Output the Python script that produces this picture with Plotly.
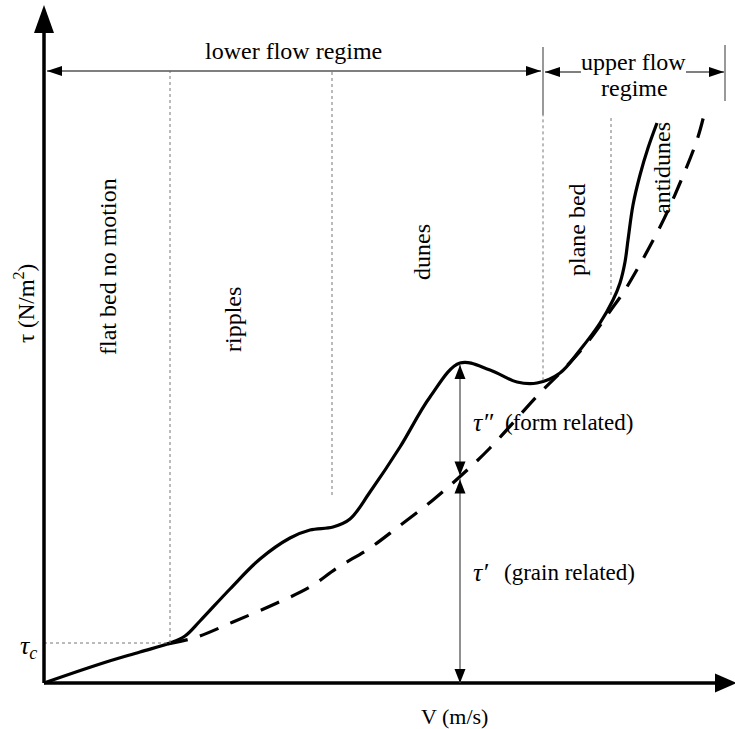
import numpy as np
import plotly.graph_objects as go

# Total bed shear stress (solid line), V and tau in drawing units
V_total = [0, 56, 96, 126, 141, 156, 186, 216, 246, 266, 289, 306, 326, 356, 386,
           416, 446, 473, 493, 516, 536, 556, 569, 576, 581, 584, 589, 596, 604, 613]
tau_total = [0, 19, 31, 40, 47, 62, 94, 124, 145, 153, 156, 164, 191, 236, 286,
             320, 313, 301, 300, 310, 333, 360, 383, 400, 421, 443, 478, 508, 535, 560]

# Grain related shear stress (dashed line)
V_grain = [124, 153, 189, 233, 266, 293, 326, 354, 389, 421, 446, 496, 519, 543,
           569, 581, 616, 636, 653, 660]
tau_grain = [39, 46, 61, 80, 96, 115, 135, 156, 183, 211, 235, 290, 313, 340,
             376, 393, 456, 500, 543, 568]

# Critical shear stress and regime boundaries along V
V_c, tau_c = 126, 40
V_ripple_dune = 288
V_dune_plane = 499
V_plane_anti = 567
V_upper_end = 681
V_split = 416          # where tau' and tau'' are marked
tau_top = 612          # level of the regime dimension lines

# Axis extents
V_max, tau_max = 691, 678

FONT = "Liberation Serif, Times New Roman, serif"
GREY = "#555555"

fig = go.Figure()

fig.add_trace(go.Scatter(x=V_total, y=tau_total, mode="lines",
                         line=dict(color="black", width=3.2, shape="spline", smoothing=1.0),
                         hoverinfo="skip"))
fig.add_trace(go.Scatter(x=V_grain, y=tau_grain, mode="lines",
                         line=dict(color="black", width=3.2, shape="spline", smoothing=1.0,
                                   dash="20px,13px"),
                         hoverinfo="skip"))

tau_at_split = float(np.interp(V_split, V_total, tau_total))
grain_at_split = float(np.interp(V_split, V_grain, tau_grain))
tau_min_plane = float(np.interp(V_dune_plane, V_total, tau_total))


def vline(x, y0, y1, dash="dot", color="#777777", width=1):
    fig.add_trace(go.Scatter(x=[x, x], y=[y0, y1], mode="lines",
                             line=dict(color=color, width=width, dash=dash),
                             hoverinfo="skip"))


# regime boundaries
vline(V_c, tau_c, tau_top)
vline(V_ripple_dune, 188, tau_top)
vline(V_dune_plane, tau_min_plane, tau_top - 44)
vline(V_dune_plane, tau_top - 44, tau_top + 24, dash="solid", color=GREY, width=1.2)
vline(V_plane_anti, 388, tau_top - 46)
vline(V_upper_end, tau_top - 30, tau_top + 26, dash="solid", color=GREY, width=1.2)
# critical shear stress level
fig.add_trace(go.Scatter(x=[0, V_c], y=[tau_c, tau_c], mode="lines",
                         line=dict(color="#777777", width=1, dash="dot"),
                         hoverinfo="skip"))

shapes = []


def seg(x0, y0, x1, y1, color=GREY, width=1.3):
    shapes.append(dict(type="line", x0=x0, y0=y0, x1=x1, y1=y1, xref="x", yref="y",
                       line=dict(color=color, width=width)))


def head(tx, ty, dx, dy, length, width):
    bx, by = tx - dx * length, ty - dy * length
    px, py = -dy * width / 2, dx * width / 2
    path = (f"M {tx} {ty} L {bx + px} {by + py} L {bx - px} {by - py} Z")
    shapes.append(dict(type="path", path=path, xref="x", yref="y",
                       fillcolor="black", line=dict(width=0)))


# coordinate axes
seg(0, 0, V_max - 14, 0, color="black", width=3.5)
head(V_max + 2, 0, 1, 0, 22, 19)
seg(0, 0, 0, tau_max - 20, color="black", width=3.5)
head(0, tau_max, 0, 1, 28, 20)

# lower flow regime dimension line
seg(3, tau_top, V_dune_plane - 2, tau_top)
head(3, tau_top, -1, 0, 15, 10)
head(V_dune_plane - 2, tau_top, 1, 0, 15, 10)
# upper flow regime dimension line (broken by its label)
seg(V_dune_plane + 2, tau_top - 1, 537, tau_top - 1)
seg(642, tau_top - 1, V_upper_end - 1, tau_top - 1)
head(V_dune_plane + 2, tau_top - 1, -1, 0, 15, 10)
head(V_upper_end - 1, tau_top - 1, 1, 0, 15, 10)

# tau'' : form related part
seg(V_split, tau_at_split - 2, V_split, grain_at_split + 2)
head(V_split, tau_at_split - 2, 0, 1, 14, 11)
head(V_split, grain_at_split + 1, 0, -1, 14, 11)
# tau' : grain related part
seg(V_split, grain_at_split - 2, V_split, 0)
head(V_split, grain_at_split - 3, 0, 1, 14, 11)
head(V_split, 0, 0, -1, 14, 11)

ann = []


def text(x, y, s, size=23, angle=0, xanchor="center", yanchor="middle"):
    ann.append(dict(x=x, y=y, xref="x", yref="y", text=s, showarrow=False,
                    textangle=angle, xanchor=xanchor, yanchor=yanchor,
                    font=dict(family=FONT, size=size, color="black")))


text(249, 632, "lower flow regime", size=24)
text(589, 621, "upper flow", size=24)
text(590, 595, "regime", size=24)
text(410, -33, "V (m/s)", size=22)
text(-20, 379, "τ (N/m<sup>2</sup>)", angle=-90)
text(64, 416, "flat bed no motion", size=24, angle=-90)
text(189, 363, "ripples", size=24, angle=-90)
text(378, 431, "dunes", size=24, angle=-90)
text(533, 453, "plane bed", size=24, angle=-90)
text(618, 515, "antidunes", size=24, angle=-90)
text(-5, 36, "<i>τ<sub>c</sub></i>", size=26, xanchor="right")
text(427, 261, "<i>τ″</i>", size=26, xanchor="left")
text(459, 261, "(form related)", xanchor="left")
text(427, 111, "<i>τ′</i>", size=26, xanchor="left")
text(458, 111, "(grain related)", xanchor="left")

fig.update_layout(
    width=735, height=729,
    margin=dict(l=0, r=0, t=0, b=0),
    paper_bgcolor="white", plot_bgcolor="white",
    showlegend=False,
    xaxis=dict(range=[-44, 691], visible=False, fixedrange=True),
    yaxis=dict(range=[-46, 683], visible=False, fixedrange=True),
    shapes=shapes,
    annotations=ann,
)

fig.write_html("out.html")
